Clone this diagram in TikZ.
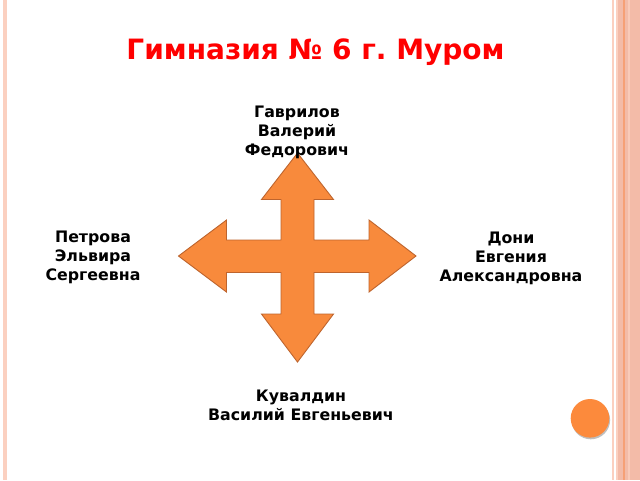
\documentclass[tikz,border=0pt]{standalone}
\usepackage{fontspec}
\setmainfont{DejaVu Sans}
\frenchspacing
\definecolor{arrowfill}{RGB}{248,138,60}
\definecolor{arrowline}{RGB}{190,100,45}
\definecolor{stripelight}{RGB}{251,208,192}
\definecolor{stripemid}{RGB}{243,187,168}
\definecolor{stripedark}{RGB}{246,160,118}
\definecolor{titlered}{RGB}{255,0,0}
\definecolor{dotorange}{RGB}{252,138,60}
\tikzset{
  personname/.style={font=\bfseries\fontsize{15.8}{19}\selectfont, align=center, inner sep=0pt, text=black},
  titletext/.style={font=\bfseries\fontsize{28}{30}\selectfont, text=titlered, inner sep=0pt, anchor=base},
}
\begin{document}
\begin{tikzpicture}[x=1pt,y=-1pt]
\useasboundingbox (0,0) rectangle (640,480);
\fill[white] (0,0) rectangle (640,480);
% left border
\fill[stripelight] (3.3,0) rectangle (6.7,480);
% right stripes
\fill[stripelight] (611.5,0) rectangle (613.5,480);
\fill[stripelight] (615.5,0) rectangle (617.5,480);
\fill[stripemid] (617.5,0) rectangle (640,480);
\fill[stripedark] (622.5,0) rectangle (625,480);
\fill[stripelight!70!stripemid] (628,0) rectangle (630,480);
% dot
\fill[black!25] (590.8,420) circle (19.3);
\fill[dotorange] (590,418.3) circle (19.3);
% title
\node[titletext] (title) at (315.5,59.3) {Гимназия № 6 г. Муром};
% arrow
\draw[fill=arrowfill, draw=arrowline, line width=0.9pt, line join=miter]
 (297.5,153) -- (333.5,199.5) -- (314,199.5) -- (314,240) -- (369,240) -- (369,220)
 -- (416,256) -- (369,292) -- (369,272.5) -- (314,272.5) -- (314,314) -- (333.5,314)
 -- (297.5,362) -- (261.5,314) -- (281,314) -- (281,272.5) -- (226.5,272.5) -- (226.5,292)
 -- (178.5,256) -- (226.5,220) -- (226.5,240) -- (281,240) -- (281,199.5) -- (261.5,199.5) -- cycle;
% names
\node[personname] (top) at (297,132.5) {Гаврилов\\Валерий\\Федорович};
\node[personname] (left) at (93,257) {Петрова\\Эльвира\\Сергеевна};
\node[personname] (right) at (511,258) {Дони\\Евгения\\Александровна};
\node[personname] (bottom) at (301,405) {Кувалдин\\Василий Евгеньевич};
\end{tikzpicture}
\end{document}
